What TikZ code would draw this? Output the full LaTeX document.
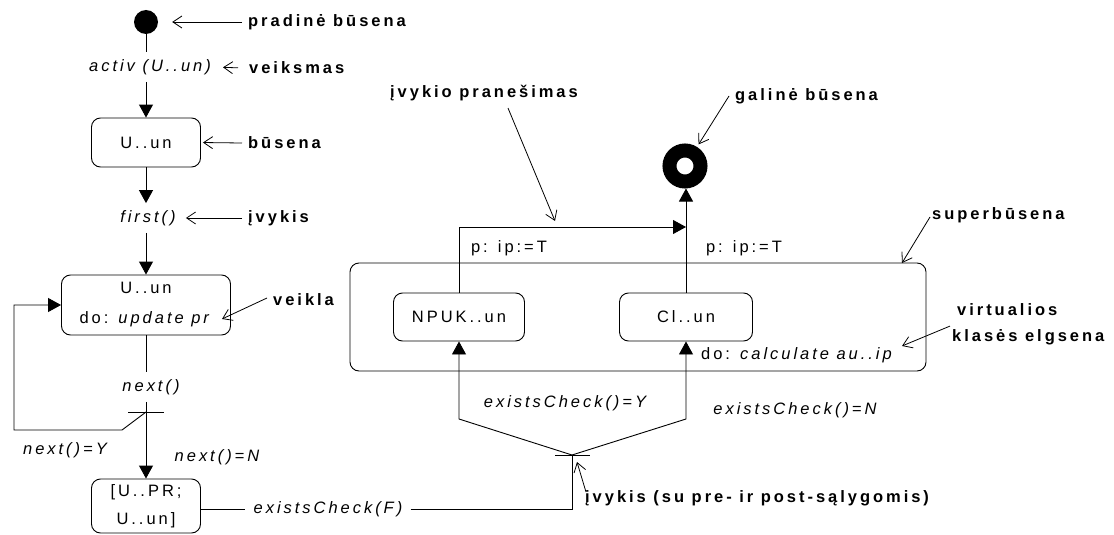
\documentclass[tikz,border=0pt]{standalone}
\usepackage{fontspec}
\setmainfont{Liberation Sans}
\newfontfamily\spacedfont{Liberation Sans}[LetterSpace=18]
\usetikzlibrary{arrows.meta}
\newcommand\txtfont{\spacedfont\fontsize{16.5}{19}\selectfont}
\newcommand\lblfont{\spacedfont\bfseries\fontsize{16.5}{19}\selectfont}

\tikzset{
  txt/.style={font=\txtfont, inner xsep=2pt, inner ysep=7pt},
  itxt/.style={font=\txtfont\itshape, inner xsep=2pt, inner ysep=7pt},
  lbl/.style={font=\lblfont, anchor=west, inner xsep=6pt, inner ysep=0pt},
  state/.style={draw, rounded corners=9pt, line width=0.9pt, font=\txtfont,
                align=center, inner sep=0pt},
  plain/.style={line width=0.9pt},
  flow/.style={line width=0.9pt, -{Triangle[length=13pt,width=14pt]}},
  note/.style={line width=0.8pt, -{Straight Barb[length=9pt,width=12pt]}},
}

\begin{document}
\begin{tikzpicture}[x=1pt,y=-1pt]
\useasboundingbox (0,0) rectangle (1114,535);

% ---------- left column: sequential states ----------
\node[circle, fill, minimum size=24pt, inner sep=0pt] (init) at (146,22) {};
\node[itxt] (tactiv) at (150,67) {activ (U..un)};
\node[state, minimum width=109pt, minimum height=49pt] (s1) at (146,142.5) {U..un};
\node[itxt] (tfirst) at (148,218) {first()};
\node[state, minimum width=169pt, minimum height=60pt,
      font=\spacedfont\fontsize{16.5}{30}\selectfont] (s2) at (146,305)
      {U..un\\do: \textit{update pr}};
\node[itxt] (tnext) at (151,387) {next()};
\coordinate (b1) at (146,412);
\node[state, minimum width=109pt, minimum height=54pt,
      font=\spacedfont\fontsize{16.5}{28}\selectfont] (s3) at (146,506)
      {[U..PR;\\U..un]};
\node[itxt] (tnY) at (65,450) {next()=Y};
\node[itxt] (tnN) at (217,457) {next()=N};
\node[itxt, inner xsep=8pt] (texF) at (328,509) {existsCheck(F)};

\draw[plain] (init) -- (init |- tactiv.north);
\draw[flow] (init |- tactiv.south) -- (s1);
\draw[flow] (s1) -- (s1 |- tfirst.north);
\draw[flow] (s1 |- tfirst.south) -- (s2);
\draw[plain] (s2) -- (s2 |- tnext.north);
\draw[flow] (s2 |- tnext.south) -- (s3);
\draw[plain] ([xshift=-18pt]b1) -- ([xshift=18pt]b1);
\draw[flow] (b1) -- (122,430) -- (14,430) -- (14,305) -- (s2.west);
\draw[plain] (s3.east |- texF.west) -- (texF.west);

% ---------- right part: superstate ----------
\node[state, minimum width=576pt, minimum height=108pt] (sup) at (638,317) {};
\node[state, minimum width=131pt, minimum height=48pt] (npuk) at (459,317) {NPUK..un};
\node[state, minimum width=133pt, minimum height=48pt] (cl) at (686,317) {Cl..un};
\node[txt] (tdo) at (798,355) {do: \textit{calculate au..ip}};
\node[circle, draw, line width=14pt, minimum size=31pt, inner sep=0pt] (fin) at (685,166) {};
\node[txt] (tp1) at (509,248) {p: ip:=T};
\node[txt] (tp2) at (744,248) {p: ip:=T};
\coordinate (join) at (686,227);
\coordinate (b2) at (572,455);
\node[itxt] (tecY) at (565,403) {existsCheck()=Y};
\node[itxt] (tecN) at (795,410) {existsCheck()=N};

\draw[flow] (npuk.north) |- (join);
\draw[flow] (cl.north) -- (cl.north |- fin.south);
\draw[plain] ([xshift=-17pt]b2) -- ([xshift=18pt]b2);
\draw[flow] (b2) -- (459,419) -- (npuk.south);
\draw[flow] (b2) -- (686,419) -- (cl.south);
\draw[plain] (texF.east) -| (b2);

% ---------- annotations ----------
\node[lbl] (lpr) at (242,22) {pradinė būsena};
\node[lbl] (lvk) at (243,68) {veiksmas};
\node[lbl] (lbu) at (242,143) {būsena};
\node[lbl] (lev) at (242,218) {įvykis};
\node[lbl] (lvl) at (267,300) {veikla};
\node[lbl] (lip) at (384,93) {įvykio pranešimas};
\node[lbl] (lga) at (729,96) {galinė būsena};
\node[lbl] (lsup) at (926,215) {superbūsena};
\node[lbl] (lvir) at (951,310) {virtualios};
\node[lbl] (lkl) at (946,337) {klasės elgsena};
\node[lbl] (lev2) at (579,498) {įvykis (su pre- ir post-sąlygomis)};

\coordinate (actv) at (222,319);
\coordinate (msg) at (555,221);
\coordinate (suptop) at (902,263);
\coordinate (virt) at (902,346);

\draw[note, shorten >=14pt] (lpr.west) -- (init.east);
\draw[note, shorten <=5pt, shorten >=10pt] (lvk.west) -- (tactiv.east);
\draw[note, shorten >=2pt] (lbu.west) -- (s1.east);
\draw[note, shorten >=8pt] (lev.west) -- (tfirst.east);
\draw[note] ([yshift=2pt]lvl.west) -- (actv);
\draw[note] ([xshift=24pt,yshift=-7pt]lip.south) -- (msg);
\draw[note, shorten >=3pt] (lga.west) -- (fin);
\draw[note] ([xshift=4pt,yshift=-2pt]lsup.west) -- (suptop);
\draw[note] ([xshift=4pt,yshift=3pt]lkl.north west) -- (virt);
\draw[note] ([xshift=7pt,yshift=6pt]lev2.west) -- ([xshift=5pt,yshift=-7pt]b2);
\end{tikzpicture}
\end{document}
